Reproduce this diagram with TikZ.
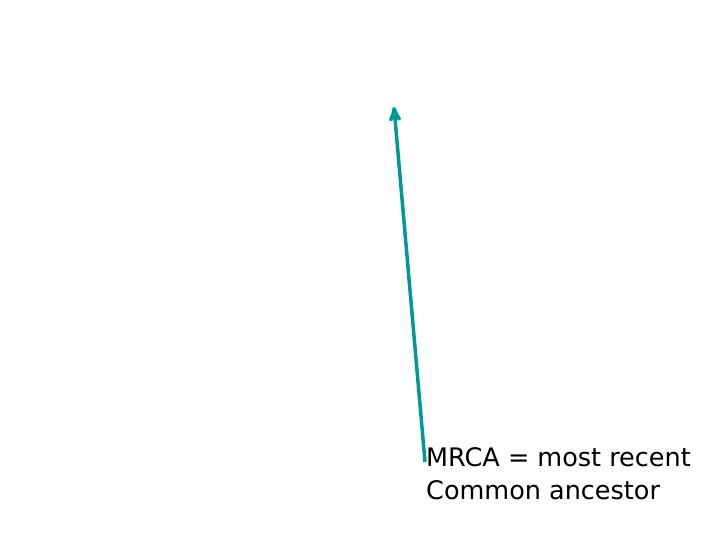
\documentclass[tikz,border=0pt]{standalone}
\usepackage{fontspec}
\setmainfont{DejaVu Sans}
\usetikzlibrary{arrows}
\definecolor{mrcateal}{RGB}{0,153,153}
\tikzset{
  label/.style = {align=left, inner sep=0pt, anchor=north west,
    font=\fontsize{25.5}{33}\selectfont},
  lineage/.style = {->, >=stealth', draw=mrcateal, line width=3.5pt},
}
\begin{document}
\begin{tikzpicture}[x=1pt,y=1pt]
\useasboundingbox (0,0) rectangle (720,540);
\node [label] (mrca) at (426,93) {MRCA = most recent\\Common ancestor};
\coordinate (base) at (425,78);
\coordinate (tip) at (394,433);
\draw [lineage] (base) -- (tip);
\end{tikzpicture}
\end{document}
